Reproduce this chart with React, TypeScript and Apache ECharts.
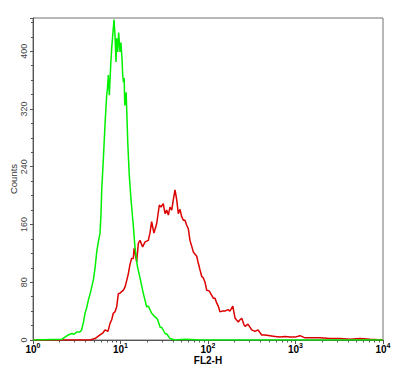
import React, { useEffect, useRef } from 'react';
import * as echarts from 'echarts';

const xMajorTicks = [1, 10, 100, 1000, 10000];
const xMinorTicks = [2, 3, 4, 5, 6, 7, 8, 9, 20, 30, 40, 50, 60, 70, 80, 90, 200, 300, 400, 500, 600, 700, 800, 900, 2000, 3000, 4000, 5000, 6000, 7000, 8000, 9000];
const yTickLabels = [0, 80, 160, 240, 320, 400];

const greenX = [1, 2.13, 2.32, 2.53, 2.77, 2.94, 3.16, 3.44, 3.6, 3.78, 3.93, 4.09, 4.29, 4.54, 4.89, 5.12, 5.35, 5.58, 5.83, 5.98, 6.1, 6.36, 6.65, 6.95, 7.1, 7.26, 7.45, 7.73, 7.93, 8.15, 8.43, 8.65, 8.89, 9.05, 9.29, 9.53, 9.87, 10.1, 10.4, 10.6, 10.8, 11.0, 11.2, 11.6, 11.8, 12.1, 12.6, 13.2, 14.0, 14.6, 15.6, 16.7, 18.2, 19.9, 20.8, 22.7, 24.8, 26.4, 28.3, 29.8, 32.3, 34.0, 36.8, 42, 54.6, 81, 10000];
const greenY = [0, 1, 4, 7, 9, 8, 11, 11, 14, 25, 37, 44, 55, 66, 83, 100, 122, 136, 148, 173, 208, 249, 298, 339, 349, 367, 339, 381, 404, 422, 444, 422, 385, 418, 399, 426, 399, 412, 390, 367, 357, 363, 325, 343, 316, 274, 228, 194, 159, 130, 102, 86, 65, 46, 47, 37, 32, 29, 18, 17, 9, 8, 2, 0, 1, 0, 0];

const redX = [1, 4.48, 5.12, 5.83, 6.31, 6.65, 7.2, 7.59, 7.93, 8.27, 8.65, 9.05, 9.44, 9.87, 10.3, 10.8, 11.3, 11.8, 12.3, 12.8, 13.4, 14.0, 14.3, 14.6, 15.3, 16.0, 16.7, 17.9, 19.1, 20.8, 21.7, 22.7, 24.1, 25.9, 27.8, 29.0, 30.8, 32.3, 33.7, 35.2, 36.8, 38.5, 40.1, 42.0, 43.9, 45.8, 47.9, 50.0, 52.2, 54.6, 57.1, 59.6, 62.2, 65.1, 67.9, 74.3, 76.9, 81.1, 84.8, 88.4, 92.5, 96.6, 103, 110, 115, 120, 126, 131, 137, 145, 156, 169, 178, 192, 204, 222, 232, 243, 258, 265, 286, 316, 344, 373, 411, 448, 511, 583, 665, 758, 865, 986, 1125, 1284, 1465, 1671, 1905, 2480, 3226, 4200, 5460, 7100, 10000];
const redY = [0, 0, 2, 7, 10, 14, 12, 23, 28, 37, 39, 46, 64, 65, 67, 69, 74, 83, 92, 104, 113, 113, 127, 122, 108, 134, 138, 129, 136, 138, 148, 164, 148, 161, 187, 184, 189, 175, 180, 173, 184, 180, 194, 208, 194, 175, 181, 171, 166, 166, 159, 154, 138, 130, 122, 116, 108, 97, 88, 86, 80, 69, 68, 62, 58, 58, 51, 47, 39, 40, 40, 42, 40, 47, 30, 25, 28, 30, 21, 19, 22, 14, 12, 14, 7, 7, 6, 5, 4, 5, 4, 4, 6, 3, 3, 3, 3, 2, 2, 1, 2, 1, 0];

const FONT = '"Liberation Sans", Arial, sans-serif';

export default function App() {
  const ref = useRef<HTMLDivElement>(null);
  useEffect(() => {
    if (!ref.current) return;
    const chart = echarts.init(ref.current, undefined, { renderer: 'svg' });
    const greenData = greenX.map((x, i) => [x, greenY[i]]);
    const redData = redX.map((x, i) => [x, redY[i]]);
    chart.setOption({
      animation: false,
      backgroundColor: '#ffffff',
      grid: { left: 33, top: 18, right: 18, bottom: 32, show: true, borderColor: '#707070', borderWidth: 1, containLabel: false, outerBoundsMode: 'none' },
      xAxis: [
        {
          type: 'log', logBase: 10, min: 1, max: 10000,
          name: 'FL2-H', nameLocation: 'middle', nameGap: 15, nameMoveOverlap: false,
          nameTextStyle: { fontFamily: FONT, fontSize: 10, fontWeight: 'bold', color: '#000' },
          axisLine: { show: true, lineStyle: { color: '#555', width: 1 } },
          axisTick: { show: true, length: 4, lineStyle: { color: '#555' }, customValues: xMajorTicks },
          splitLine: { show: false },
          minorTick: { show: false },
          axisLabel: {
            margin: 3,
            customValues: xMajorTicks,
            formatter: (v: number) => '{b|10}{s|' + Math.round(Math.log10(v)) + '}',
            rich: {
              b: { fontFamily: FONT, fontSize: 10, fontWeight: 'bold', color: '#000', verticalAlign: 'bottom', lineHeight: 11 },
              s: { fontFamily: FONT, fontSize: 7, fontWeight: 'bold', color: '#000', verticalAlign: 'bottom', padding: [0, 0, 5, 0], lineHeight: 8 },
            },
          },
        },
        {
          type: 'log', logBase: 10, min: 1, max: 10000, position: 'bottom',
          axisLine: { show: false },
          axisTick: { show: true, length: 2.5, lineStyle: { color: '#555' }, customValues: xMinorTicks },
          axisLabel: { show: false },
          splitLine: { show: false },
        },
      ],
      yAxis: {
        type: 'value', min: 0, max: 446, interval: 80,
        name: 'Counts', nameLocation: 'middle', nameGap: 15, nameMoveOverlap: false,
        nameTextStyle: { fontFamily: FONT, fontSize: 9.5, color: '#333' },
        axisLine: { show: true, lineStyle: { color: '#555', width: 1 } },
        axisTick: { show: true, length: 3, lineStyle: { color: '#555' } },
        minorTick: { show: true, splitNumber: 4, length: 2, lineStyle: { color: '#555' } },
        splitLine: { show: false },
        axisLabel: {
          rotate: 90, margin: 5, fontFamily: FONT, fontSize: 9, color: '#444',
          formatter: (v: number) => (yTickLabels.indexOf(v) >= 0 ? String(v) : ''),
        },
      },
      series: [
        {
          type: 'line', xAxisIndex: 0, data: redData, symbol: 'none',
          lineStyle: { color: '#dd0000', width: 1.5 }, z: 2,
        },
        {
          type: 'line', xAxisIndex: 0, data: greenData, symbol: 'none',
          lineStyle: { color: '#00f000', width: 1.5 }, z: 3,
        },
      ],
    });
    return () => chart.dispose();
  }, []);
  return <div ref={ref} style={{ position: 'fixed', left: 0, top: 0, width: 401, height: 372 }} />;
}
